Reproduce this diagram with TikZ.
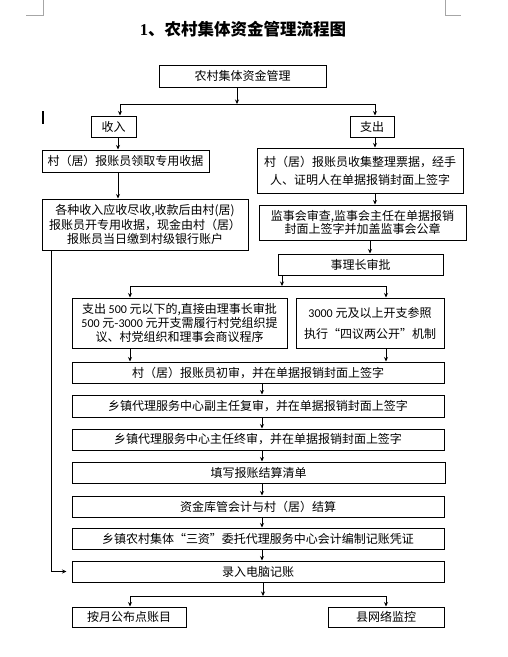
\documentclass[tikz,border=0pt]{standalone}
\usepackage{fontspec}
\setmainfont{Noto Sans CJK SC}
\newfontfamily\num{Carlito}
\newfontfamily\titlenum{Liberation Serif}
\usetikzlibrary{arrows.meta}
\begin{document}
\begin{tikzpicture}[x=1pt,y=-1pt,
  box/.style={draw,line width=1pt,inner sep=0pt,align=center,font=\fontsize{12}{14}\selectfont},
  arr/.style={line width=0.9pt,-{Stealth[length=4.5pt,width=4pt]}},
  ln/.style={line width=0.9pt},
  corner/.style={draw=black!35,line width=0.8pt}]
\useasboundingbox[fill=white] (0,0) rectangle (508,657);
% page corner marks and cursor
\draw[corner] (43,0) -- (43,15) -- (26,15);
\draw[corner] (445,0) -- (445,15) -- (461,15);
\draw[line width=1.4pt] (43,111) -- (43,124);
% title
\node[font=\fontsize{16.5}{18}\selectfont\bfseries] (title) at (243,29) {{\titlenum\bfseries 1}、农村集体资金管理流程图};
% boxes
\node[box,minimum width=167,minimum height=22] (top) at (242.5,76) {农村集体资金管理};
\node[box,minimum width=45,minimum height=21] (sr) at (113.5,126.5) {收入};
\node[box,minimum width=44,minimum height=21] (zc) at (372,126.5) {支出};
\node[box,minimum width=167,minimum height=22] (l1) at (125.5,161) {村（居）报账员领取专用收据};
\node[box,minimum width=206,minimum height=51,font=\fontsize{12}{14.5}\selectfont] (l2) at (145,224.5) {各种收入应收尽收,收款后由村(居)\\报账员开专用收据，现金由村（居）\\报账员当日缴到村级银行账户};
\node[box,minimum width=206,minimum height=45,font=\fontsize{12}{18}\selectfont] (r1) at (360,170.5) {村（居）报账员收集整理票据，经手\\人、证明人在单据报销封面上签字};
\node[box,minimum width=207,minimum height=35,font=\fontsize{12}{13.5}\selectfont] (r2) at (362.5,222.5) {监事会审查,监事会主任在单据报销\\封面上签字并加盖监事会公章};
\node[box,minimum width=165,minimum height=21] (r3) at (360.5,264.5) {事理长审批};
\node[box,minimum width=215,minimum height=50,font=\fontsize{12}{13.8}\selectfont] (al) at (179.5,323) {支出 {\num 500} 元以下的,直接由理事长审批\\{\num 500} 元-{\num 3000} 元开支需履行村党组织提\\议、村党组织和理事会商议程序};
\node[box,minimum width=148,minimum height=50,font=\fontsize{12}{21}\selectfont] (ar) at (370,323) {{\num 3000} 元及以上开支参照\\执行“四议两公开”机制};
\node[box,minimum width=372,minimum height=21] (b1) at (258,372.5) {村（居）报账员初审，并在单据报销封面上签字};
\node[box,minimum width=372,minimum height=22] (b2) at (258,406) {乡镇代理服务中心副主任复审，并在单据报销封面上签字};
\node[box,minimum width=372,minimum height=21] (b3) at (258,439.5) {乡镇代理服务中心主任终审，并在单据报销封面上签字};
\node[box,minimum width=373,minimum height=21] (b4) at (258.5,472.5) {填写报账结算清单};
\node[box,minimum width=372,minimum height=21] (b5) at (258,506.5) {资金库管会计与村（居）结算};
\node[box,minimum width=372,minimum height=21] (b6) at (258,538.5) {乡镇农村集体“三资”委托代理服务中心会计编制记账凭证};
\node[box,minimum width=372,minimum height=21] (b7) at (258,571.5) {录入电脑记账};
\node[box,minimum width=114,minimum height=20] (c1) at (129,617) {按月公布点账目};
\node[box,minimum width=116,minimum height=20] (c2) at (386,617) {县网络监控};
% split 1
\coordinate (s1) at (237,104);
\coordinate (s1l) at (120,104);
\coordinate (s1r) at (375,104);
\draw[arr] (top.south -| s1) -- (s1);
\draw[ln] (s1l) -- (s1r);
\draw[arr] (s1l) -- (s1l |- sr.north);
\draw[arr] (s1r) -- (s1r |- zc.north);
% left column
\coordinate (lx) at (118,0);
\draw[arr] (sr.south -| lx) -- (l1.north -| lx);
\draw[arr] (l1.south -| lx) -- (l2.north -| lx);
% right column
\coordinate (rx) at (375,0);
\coordinate (rx2) at (370,0);
\draw[arr] (zc.south -| rx) -- (r1.north -| rx);
\draw[arr] (r1.south -| rx) -- (r2.north -| rx);
\draw[arr] (r2.south -| rx2) -- (r3.north -| rx2);
% split 2
\coordinate (s2) at (282,286);
\coordinate (s2l) at (130,286);
\coordinate (s2r) at (386,286);
\draw[arr] (r3.south -| s2) -- (s2);
\draw[ln] (s2l) -- (s2r);
\draw[arr] (s2l) -- (s2l |- al.north);
\draw[arr] (s2r) -- (s2r |- ar.north);
\draw[arr] (al.south -| s2l) -- (b1.north -| s2l);
\draw[arr] (ar.south -| s2r) -- (b1.north -| s2r);
% main column
\coordinate (mx) at (262,0);
\draw[arr] (b1.south -| mx) -- (b2.north -| mx);
\draw[arr] (b2.south -| mx) -- (b3.north -| mx);
\draw[arr] (b3.south -| mx) -- (b4.north -| mx);
\draw[arr] (b4.south -| mx) -- (b5.north -| mx);
\draw[arr] (b5.south -| mx) -- (b6.north -| mx);
\draw[arr] (b6.south -| mx) -- (b7.north -| mx);
% split 3
\coordinate (s3) at (263,596);
\coordinate (s3l) at (130,596);
\coordinate (s3r) at (386,596);
\draw[arr] (b7.south -| s3) -- (s3);
\draw[ln] (s3l) -- (s3r);
\draw[arr] (s3l) -- (s3l |- c1.north);
\draw[arr] (s3r) -- (s3r |- c2.north);
% income bypass
\coordinate (bx) at (51,0);
\draw[arr,shorten >=5pt] (l2.south -| bx) |- (b7.west);
\end{tikzpicture}
\end{document}
